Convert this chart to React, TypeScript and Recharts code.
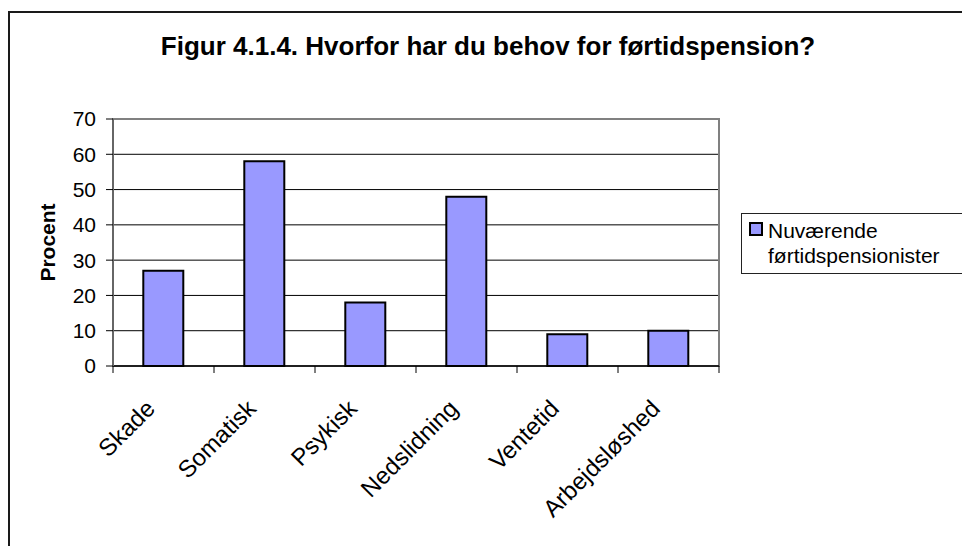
import React from 'react';
import { BarChart, Bar, XAxis, YAxis, CartesianGrid, ReferenceArea, Legend } from 'recharts';

const categories = ['Skade', 'Somatisk', 'Psykisk', 'Nedslidning', 'Ventetid', 'Arbejdsløshed'];
const values = [27, 58, 18, 48, 9, 10];
const yTicks = [0, 10, 20, 30, 40, 50, 60, 70];
const seriesName = 'Nuværende førtidspensionister';
const titleText = 'Figur 4.1.4. Hvorfor har du behov for førtidspension?';
const yLabelText = 'Procent';

const data = categories.map((c, i) => ({ name: c, value: values[i] }));

const W = 962;
const H = 546;
const Y_W = 60;
const X_H = 150;
const MARGIN = { top: 119, right: 243, bottom: 30, left: 53 };
const BAND = (W - MARGIN.left - Y_W - MARGIN.right) / categories.length;
const FONT = '"Liberation Sans", Arial, sans-serif';

const XTick = (props: any) => {
  const { x, y, payload, index } = props;
  const half = BAND / 2;
  const tx = x - 7;
  const ty = y + 44;
  const last = index === categories.length - 1;
  return (
    <g>
      <line x1={x - half} y1={y} x2={x - half} y2={y + 7} stroke="#000" strokeWidth={1} />
      {last && <line x1={x + half} y1={y} x2={x + half} y2={y + 7} stroke="#000" strokeWidth={1} />}
      <text
        x={tx}
        y={ty}
        textAnchor="end"
        fontSize={24}
        fontFamily={FONT}
        fill="#000"
        transform={`rotate(-45 ${tx} ${ty})`}
      >
        {payload.value}
      </text>
    </g>
  );
};

const YLabel = (props: any) => {
  const vb = props.viewBox || {};
  const x = (vb.x ?? MARGIN.left) + 2;
  const y = (vb.y ?? MARGIN.top) + (vb.height ?? 247) / 2;
  return (
    <text
      x={x}
      y={y}
      textAnchor="middle"
      fontSize={21}
      fontWeight="bold"
      fontFamily={FONT}
      fill="#000"
      transform={`rotate(-90 ${x} ${y})`}
    >
      {yLabelText}
    </text>
  );
};

const LegendBox = (props: any) => {
  const items = props.payload || [];
  return (
    <div
      style={{
        boxSizing: 'border-box',
        width: 260,
        height: 61,
        border: '1px solid #222',
        background: '#fff',
        position: 'relative',
        fontFamily: FONT,
        fontSize: 21,
        lineHeight: '25px',
        color: '#000',
      }}
    >
      {items.map((it: any, i: number) => (
        <div key={i} style={{ position: 'relative' }}>
          <div
            style={{
              position: 'absolute',
              left: 7,
              top: 8,
              width: 14,
              height: 14,
              boxSizing: 'border-box',
              background: it.color,
              border: '2px solid #000',
            }}
          />
          <div style={{ position: 'absolute', left: 26, top: 4, width: 230, whiteSpace: 'normal' }}>
            {String(it.value).split(' ').map((w: string, k: number) => (
              <div key={k}>{w}</div>
            ))}
          </div>
        </div>
      ))}
    </div>
  );
};

export default function App() {
  return (
    <div
      style={{
        position: 'fixed',
        left: 0,
        top: 0,
        width: W,
        height: H,
        overflow: 'hidden',
        background: '#fff',
        fontFamily: FONT,
      }}
    >
      <div
        style={{
          position: 'absolute',
          left: 8,
          top: 11,
          width: 1200,
          height: 1200,
          border: '2px solid #1a1a1a',
        }}
      />
      <div
        style={{
          position: 'absolute',
          left: 0,
          top: 31,
          width: 976,
          textAlign: 'center',
          fontSize: 26,
          fontWeight: 'bold',
          lineHeight: '30px',
          color: '#000',
          whiteSpace: 'nowrap',
        }}
      >
        {titleText}
      </div>
      <div style={{ position: 'absolute', left: 0, top: 0 }}>
        <BarChart width={W} height={H} data={data} margin={MARGIN} barCategoryGap="30%">
          <CartesianGrid vertical={false} stroke="#000" strokeWidth={1} />
          <ReferenceArea y1={0} y2={70} fill="none" stroke="#808080" strokeWidth={2} ifOverflow="visible" />
          <XAxis
            dataKey="name"
            height={X_H}
            interval={0}
            tickLine={false}
            tickSize={0}
            tickMargin={0}
            axisLine={{ stroke: '#000', strokeWidth: 1.5 }}
            tick={<XTick />}
          />
          <YAxis
            width={Y_W}
            domain={[0, 70]}
            ticks={yTicks}
            interval={0}
            tickSize={7}
            tickMargin={10}
            tickLine={{ stroke: '#000' }}
            axisLine={{ stroke: '#666', strokeWidth: 2 }}
            tick={{ fontSize: 21, fill: '#000', fontFamily: FONT }}
            label={<YLabel />}
          />
          <Bar
            dataKey="value"
            name={seriesName}
            fill="#9999FF"
            stroke="#000"
            strokeWidth={2}
            isAnimationActive={false}
          />
          <Legend
            layout="vertical"
            align="center"
            verticalAlign="middle"
            content={<LegendBox />}
            wrapperStyle={{ left: 741, top: 213, width: 260 }}
          />
        </BarChart>
      </div>
    </div>
  );
}
